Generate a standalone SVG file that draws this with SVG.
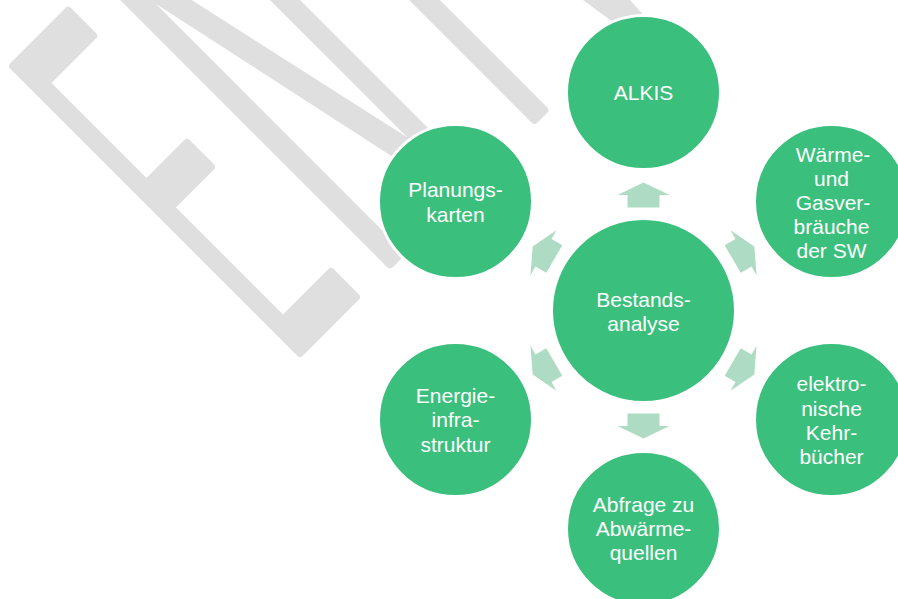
<svg xmlns="http://www.w3.org/2000/svg" width="898" height="599" viewBox="0 0 898 599">
<defs>
<style>
.bg{fill:#dfdfdf;stroke:#dfdfdf;stroke-width:8;stroke-linejoin:round}
.node circle{fill:#3bbf7d;stroke:#ffffff;stroke-width:3}
.node text{fill:#ffffff;font-family:"Liberation Sans",Arial,sans-serif;font-size:21px;text-anchor:middle}
.arrow{fill:#aedbc3}
</style>
<polygon id="arr" points="-16,-103 16,-103 16,-115.5 26,-115.5 0,-128 -26,-115.5 -16,-115.5"/>
</defs>
<rect width="898" height="599" fill="#ffffff"/>
<g id="background">
<g transform="rotate(45)">
<polygon class="bg" stroke-width="10" points="55.9,37.4 55.9,-40.6 91.2,-40.6 91.2,26.2 233.4,26.2 233.4,-31.1 267.2,-31.1 267.2,26.2 426.4,26.2 426.4,-41.7 461.7,-41.7 461.7,37.4"/>
<polygon class="bg" points="55,-88.9 462.7,-88.9 462.7,-103.5 75.3,-103.5 462.7,-186.9 462.7,-208.1 55,-208.1 55,-194.9 421.2,-194.9 55,-113.5"/>
<polygon class="bg" points="0,-293.2 462.7,-293.2 462.7,-307.1 0,-307.1"/>
</g>
<polygon fill="#dfdfdf" points="583,0 630,0 655,28 625,31"/>
</g>
<g id="connectors">
<use href="#arr" class="arrow" transform="translate(643.5,310.5)"/>
<use href="#arr" class="arrow" transform="translate(643.5,310.5) rotate(60)"/>
<use href="#arr" class="arrow" transform="translate(643.5,310.5) rotate(120)"/>
<use href="#arr" class="arrow" transform="translate(643.5,310.5) rotate(180)"/>
<use href="#arr" class="arrow" transform="translate(643.5,310.5) rotate(240)"/>
<use href="#arr" class="arrow" transform="translate(643.5,310.5) rotate(300)"/>
</g>
<g id="node-bestandsanalyse" class="node">
<circle cx="643.5" cy="310.5" r="92"/>
<text><tspan x="643.5" y="306.5">Bestands-</tspan><tspan x="643.5" y="331">analyse</tspan></text>
</g>
<g id="node-alkis" class="node">
<circle cx="643.5" cy="92.5" r="77"/>
<text x="643.5" y="100">ALKIS</text>
</g>
<g id="node-planungskarten" class="node">
<circle cx="455.5" cy="201.5" r="77"/>
<text><tspan x="455.5" y="197">Planungs-</tspan><tspan x="455.5" y="222">karten</tspan></text>
</g>
<g id="node-waerme" class="node">
<circle cx="831.5" cy="201.5" r="77"/>
<text><tspan x="833" y="161.7">Wärme-</tspan><tspan x="831.5" y="186">und</tspan><tspan x="833" y="210">Gasver-</tspan><tspan x="831.5" y="234.3">bräuche</tspan><tspan x="831.5" y="257.7">der SW</tspan></text>
</g>
<g id="node-energie" class="node">
<circle cx="455.5" cy="419.5" r="77"/>
<text><tspan x="455.5" y="403.3">Energie-</tspan><tspan x="455.5" y="427.3">infra-</tspan><tspan x="455.5" y="451.7">struktur</tspan></text>
</g>
<g id="node-kehrbuecher" class="node">
<circle cx="831.5" cy="419.5" r="77"/>
<text><tspan x="831.5" y="391">elektro-</tspan><tspan x="831.5" y="416">nische</tspan><tspan x="831.5" y="440">Kehr-</tspan><tspan x="831.5" y="464">bücher</tspan></text>
</g>
<g id="node-abfrage" class="node">
<circle cx="643.5" cy="528.5" r="77"/>
<text><tspan x="643.5" y="511.7">Abfrage zu</tspan><tspan x="643.5" y="535.7">Abwärme-</tspan><tspan x="643.5" y="560">quellen</tspan></text>
</g>
</svg>
